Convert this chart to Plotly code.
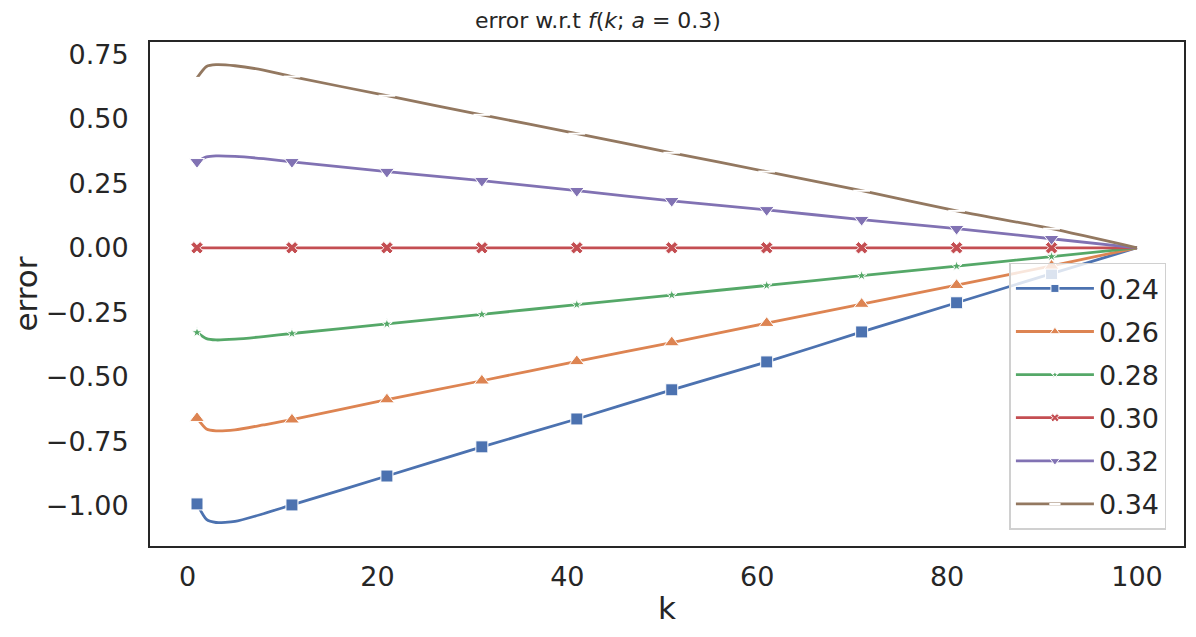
import plotly.graph_objects as go

k_vals = [1, 2, 3, 5, 8, 11, 21, 31, 41, 51, 61, 71, 81, 91, 100]
series_names = ["0.24", "0.26", "0.28", "0.30", "0.32", "0.34"]
err_024 = [-0.992, -1.052, -1.064, -1.060, -1.030, -0.996, -0.884, -0.771, -0.663, -0.550, -0.442, -0.326, -0.213, -0.100, 0.0]
err_026 = [-0.660, -0.702, -0.709, -0.705, -0.686, -0.666, -0.588, -0.515, -0.440, -0.367, -0.292, -0.218, -0.145, -0.070, 0.0]
err_028 = [-0.328, -0.352, -0.357, -0.354, -0.344, -0.332, -0.295, -0.258, -0.220, -0.183, -0.146, -0.108, -0.071, -0.034, 0.0]
err_030 = [0.0, 0.0, 0.0, 0.0, 0.0, 0.0, 0.0, 0.0, 0.0, 0.0, 0.0, 0.0, 0.0, 0.0, 0.0]
err_032 = [0.333, 0.352, 0.356, 0.354, 0.345, 0.333, 0.295, 0.260, 0.221, 0.182, 0.147, 0.109, 0.074, 0.035, 0.0]
err_034 = [0.658, 0.702, 0.709, 0.705, 0.688, 0.663, 0.589, 0.515, 0.442, 0.368, 0.295, 0.221, 0.143, 0.074, 0.0]
y_ticks = [-1.00, -0.75, -0.50, -0.25, 0.00, 0.25, 0.50, 0.75]
x_ticks = [0, 20, 40, 60, 80, 100]

all_series = [err_024, err_026, err_028, err_030, err_032, err_034]
colors = ["#4C72B0", "#DD8452", "#55A868", "#C44E52", "#8172B3", "#937860"]
symbols = ["square", "triangle-up", "star", "x", "triangle-down", "line-ew"]
msizes = [12, 13, 8, 11, 13, 12]

fig = go.Figure()
for name, ys, c, s, ms in zip(series_names, all_series, colors, symbols, msizes):
    sizes = [ms if (kk - 1) % 10 == 0 else 0 for kk in k_vals]
    if s == "line-ew":
        mline = dict(color="white", width=2)
    else:
        mline = dict(color="white", width=1)
    fig.add_trace(go.Scatter(
        x=k_vals, y=ys, name=name, mode="lines+markers", legendgroup=name,
        line=dict(color=c, width=2.8, shape="spline", smoothing=0.6),
        marker=dict(symbol=s, size=sizes, color=c, line=mline, opacity=1),
    ))

fig.update_layout(
    width=1180, height=621,
    margin=dict(l=142, r=2, t=34, b=83),
    paper_bgcolor="white", plot_bgcolor="white",
    font=dict(family="DejaVu Sans", color="#262626", size=26),
    title=dict(text="error w.r.t <i>f</i>(<i>k</i>; <i>a</i> = 0.3)",
               x=0.5, xanchor="center", y=0.981, yanchor="middle",
               font=dict(size=22, color="#262626")),
    showlegend=True,
    legend=dict(x=0.983, y=0.032, xanchor="right", yanchor="bottom",
                bgcolor="rgba(255,255,255,0.8)", bordercolor="#d0d0d0", borderwidth=1.5,
                font=dict(size=27, color="#262626"), itemwidth=78, tracegroupgap=5),
)
fig.update_xaxes(range=[-3.95, 104.95], tickvals=x_ticks, showgrid=False, zeroline=False,
                 showline=True, mirror=True, linecolor="#262626", linewidth=2,
                 ticks="", ticklen=0, ticklabelstandoff=6, title=dict(text="k", standoff=6),
                 tickfont=dict(size=27))
fig.update_yaxes(range=[-1.155, 0.797], tickvals=y_ticks, tickformat=".2f", showgrid=False,
                 zeroline=False, showline=True, mirror=True, linecolor="#262626", linewidth=2,
                 ticks="", ticklen=0, ticklabelstandoff=14, title=dict(text="error", standoff=12),
                 tickfont=dict(size=27))
fig.write_html("out.html")
